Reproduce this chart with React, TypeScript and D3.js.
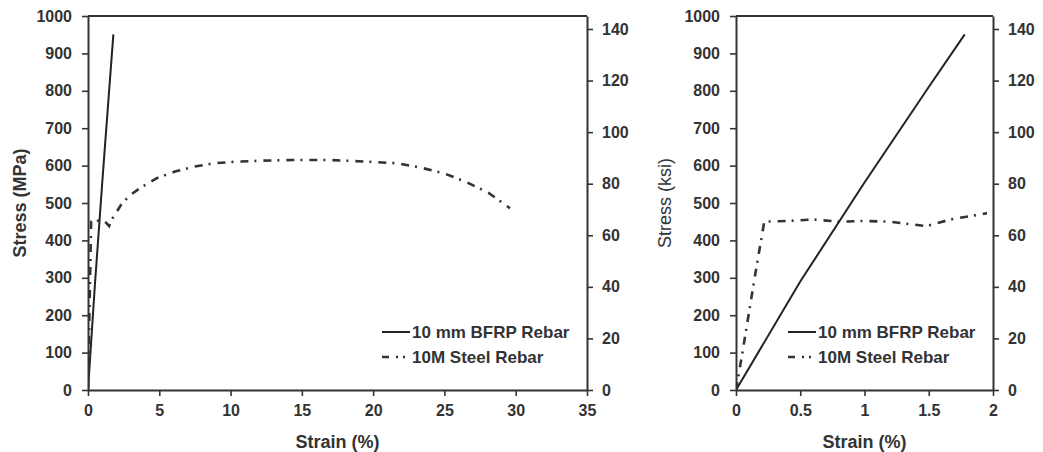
import React, { useEffect, useRef } from 'react';
import * as d3 from 'd3';

// tensile test curves, strain in %, stress in MPa
const bfrpStrain = [0, 0.5, 1.0, 1.5, 1.78];
const bfrpStress = [0, 290, 555, 810, 951];

const steelStrain = [0, 0.05, 0.1, 0.15, 0.22, 0.4, 0.6, 0.8, 1.0, 1.2, 1.48, 1.67, 1.94, 2.4, 3.0, 3.65, 4.8, 6.1, 7.4, 8.8, 10.2, 12.1, 14.4, 17.0, 20.0, 21.7, 23.3, 25.0, 26.6, 28.1, 29.6];
const steelStress = [0, 100, 205, 310, 450, 452, 456, 450, 452, 450, 438, 456, 472, 500, 522, 540, 566, 584, 597, 606, 610, 613, 615, 615, 610, 606, 595, 579, 555, 527, 486];

const seriesNames = ['10 mm BFRP Rebar', '10M Steel Rebar'];

const leftXTicks = [0, 5, 10, 15, 20, 25, 30, 35];
const rightXTicks = [0, 0.5, 1, 1.5, 2];
const mpaTicks = [0, 100, 200, 300, 400, 500, 600, 700, 800, 900, 1000];
const ksiTicks = [0, 20, 40, 60, 80, 100, 120, 140];

const MPA_PER_KSI = 6.894757;
const INK = '#333';
const FONT = '"Liberation Sans", Arial, Helvetica, sans-serif';
const TOP = 16;
const BOTTOM = 390;
const STEEL_DASH = '8,6,2,7';

const bfrp = bfrpStrain.map((x, i) => ({ x, y: bfrpStress[i] }));
const steel = steelStrain.map((x, i) => ({ x, y: steelStress[i] }));

/**
 * Style a d3 axis group after it has been drawn
 */
function styleAxis(g, fontSize) {
  g.attr('font-family', FONT).attr('font-size', fontSize).attr('font-weight', 'bold');
  g.select('.domain').attr('stroke', INK).attr('stroke-width', 2);
  g.selectAll('.tick line').attr('stroke', INK).attr('stroke-width', 1.6);
  g.selectAll('.tick text').attr('fill', INK);
}

function Panel({ id, left, right, xMax, xTicks, xTitle, yTitle, yTitleX, yTitleBold, legendX }) {
  const bottomRef = useRef(null);
  const leftRef = useRef(null);
  const rightRef = useRef(null);

  const x = d3.scaleLinear().domain([0, xMax]).range([left, right]);
  const y = d3.scaleLinear().domain([0, 1000]).range([BOTTOM, TOP]);
  const yKsi = d3.scaleLinear().domain([0, 1000 / MPA_PER_KSI]).range([BOTTOM, TOP]);

  useEffect(() => {
    const fmt = d3.format('~g');
    const plain = d3.format('d');
    const b = d3.select(bottomRef.current);
    b.call(d3.axisBottom(x).tickValues(xTicks).tickFormat(fmt).tickSize(6).tickPadding(9).tickSizeOuter(0));
    styleAxis(b, 16);
    const l = d3.select(leftRef.current);
    l.call(d3.axisLeft(y).tickValues(mpaTicks).tickFormat(plain).tickSize(6).tickPadding(10).tickSizeOuter(0));
    styleAxis(l, 16);
    const r = d3.select(rightRef.current);
    r.call(d3.axisRight(yKsi).tickValues(ksiTicks).tickFormat(plain).tickSize(6).tickPadding(9).tickSizeOuter(0));
    styleAxis(r, 16);
  }, []);

  const line = d3.line().x(d => x(d.x)).y(d => y(d.y));
  const midX = (left + right) / 2;
  const midY = (TOP + BOTTOM) / 2;

  return <g>
    <defs>
      <clipPath id={id}>
        <rect x={left} y={TOP - 2} width={right - left - 6} height={BOTTOM - TOP + 4} />
      </clipPath>
    </defs>
    <g clipPath={`url(#${id})`}>
      <path d={line(steel)} fill='none' stroke={INK} strokeWidth={2.6} strokeDasharray={STEEL_DASH} />
      <path d={line(bfrp)} fill='none' stroke='#222' strokeWidth={2} />
    </g>
    <line x1={left} x2={right} y1={TOP} y2={TOP} stroke={INK} strokeWidth={2} />
    <g ref={bottomRef} transform={`translate(0,${BOTTOM})`} />
    <g ref={leftRef} transform={`translate(${left},0)`} />
    <g ref={rightRef} transform={`translate(${right},0)`} />
    <text x={midX} y={442} dy='0.35em' textAnchor='middle' fontFamily={FONT} fontSize={18} fontWeight='bold' fill={INK}>{xTitle}</text>
    <text transform={`translate(${yTitleX},${midY}) rotate(-90)`} dy='0.35em' textAnchor='middle' fontFamily={FONT} fontSize={18} fontWeight={yTitleBold ? 'bold' : 'normal'} fill={INK}>{yTitle}</text>
    <g fontFamily={FONT} fontSize={17} fontWeight='bold' fill={INK}>
      <line x1={legendX} x2={legendX + 28} y1={332} y2={332} stroke='#222' strokeWidth={2} />
      <text x={legendX + 30} y={332} dy='0.35em'>{seriesNames[0]}</text>
      <line x1={legendX} x2={legendX + 28} y1={357} y2={357} stroke={INK} strokeWidth={2.6} strokeDasharray='7,7,2,5,2,5' />
      <text x={legendX + 30} y={357} dy='0.35em'>{seriesNames[1]}</text>
    </g>
  </g>;
}

export default function App() {
  return <svg width={1043} height={452} style={{ position: 'absolute', left: 0, top: 0, background: '#fff' }}>
    <rect width={1043} height={452} fill='#fff' />
    <Panel id='clipA' left={88} right={587} xMax={35} xTicks={leftXTicks} xTitle='Strain (%)' yTitle='Stress (MPa)' yTitleX={20} yTitleBold legendX={382} />
    <Panel id='clipB' left={736} right={993} xMax={2} xTicks={rightXTicks} xTitle='Strain (%)' yTitle='Stress (ksi)' yTitleX={665} yTitleBold={false} legendX={788} />
  </svg>;
}
